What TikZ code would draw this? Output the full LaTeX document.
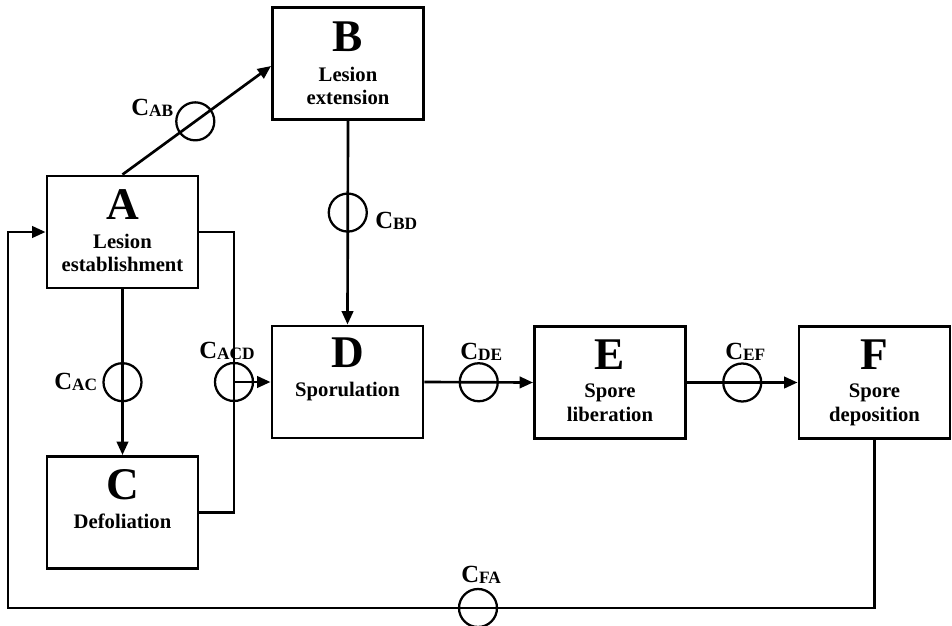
\documentclass[tikz,border=0pt]{standalone}
\usepackage{fontspec}
\setmainfont{Liberation Serif}
\usetikzlibrary{arrows.meta,calc}
\newcommand{\cflow}[1]{{\fontsize{18.5}{18}\selectfont C}{\fontsize{13}{13}\selectfont\raisebox{-1.2pt}{#1}}}
\begin{document}
\begin{tikzpicture}[x=0.75pt,y=-0.75pt,
  stagebox/.style={draw, line width=2.2pt, minimum width=113.25pt, minimum height=84pt, inner sep=0pt},
  bigletter/.style={anchor=base, inner sep=0pt, font=\fontsize{34}{34}\selectfont\bfseries},
  stagetext/.style={anchor=base, inner sep=0pt, font=\fontsize{15.5}{16}\selectfont\bfseries},
  valve/.style={draw, circle, line width=1.7pt, minimum size=28.5pt, inner sep=0pt},
  conn/.style={line width=2pt, -{Triangle[length=10pt,width=8.5pt]}},
  plainline/.style={line width=2pt},
  flowlab/.style={anchor=base west, inner sep=0pt, font=\bfseries}
]
\useasboundingbox (0,0) rectangle (952,625);

% boxes
\node[stagebox] (A) at (122.5,232) {};
\node[stagebox] (B) at (348,63.5) {};
\node[stagebox] (C) at (122.5,512.5) {};
\node[stagebox] (D) at (347.5,382) {};
\node[stagebox] (E) at (610,382.5) {};
\node[stagebox] (F) at (874.5,382.5) {};

% box texts
\node[bigletter] (At) at ($(A.north)+(0,45)$) {A};
\node[stagetext] (At1) at ($(A.north)+(0,74)$) {Lesion};
\node[stagetext] (At2) at ($(A.north)+(0,97)$) {establishment};

\node[bigletter] (Bt) at ($(B.north)+(0,45)$) {B};
\node[stagetext] (Bt1) at ($(B.north)+(0,75)$) {Lesion};
\node[stagetext] (Bt2) at ($(B.north)+(0,98)$) {extension};

\node[bigletter] (Ct) at ($(C.north)+(0,44)$) {C};
\node[stagetext] (Ct1) at ($(C.north)+(0,73)$) {Defoliation};

\node[bigletter] (Dt) at ($(D.north)+(0,43)$) {D};
\node[stagetext] (Dt1) at ($(D.north)+(0,72)$) {Sporulation};

\node[bigletter] (Et) at ($(E.north)+(0,44)$) {E};
\node[stagetext] (Et1) at ($(E.north)+(0,72)$) {Spore};
\node[stagetext] (Et2) at ($(E.north)+(0,96)$) {liberation};

\node[bigletter] (Ft) at ($(F.north)+(0,44)$) {F};
\node[stagetext] (Ft1) at ($(F.north)+(0,72)$) {Spore};
\node[stagetext] (Ft2) at ($(F.north)+(0,96)$) {deposition};

% connectors
\draw[conn] (A.north) -- node[valve, pos=0.49] (vab) {} ($(B.west)+(0,2.5)$);
\draw[conn] (B.south) -- node[valve, pos=0.45] (vbd) {} (D.north);
\draw[conn] (A.south) -- node[valve, pos=0.56] (vac) {} (C.north);

\coordinate (jn) at (234,382);
\draw[plainline] (A.east) -| (jn) |- (C.east);
\draw[conn] (jn) -- (D.west);
\node[valve] (vacd) at (jn) {};

\draw[conn] (D.east) -- node[valve, pos=0.5] (vde) {} (E.west);
\draw[conn] (E.east) -- node[valve, pos=0.5] (vef) {} (F.west);

\coordinate (fl) at (8,608);
\draw[conn] (F.south) |- (fl) |- (A.west);
\node[valve] (vfa) at (478,608) {};

% labels
\node[flowlab] (lab) at (131,115) {\cflow{AB}};
\node[flowlab] (lbd) at (375,228) {\cflow{BD}};
\node[flowlab] (lac) at (54,389) {\cflow{AC}};
\node[flowlab] (lacd) at (199,358) {\cflow{ACD}};
\node[flowlab] (lde) at (460,359) {\cflow{DE}};
\node[flowlab] (lef) at (725,359) {\cflow{EF}};
\node[flowlab] (lfa) at (461,582) {\cflow{FA}};
\end{tikzpicture}
\end{document}
